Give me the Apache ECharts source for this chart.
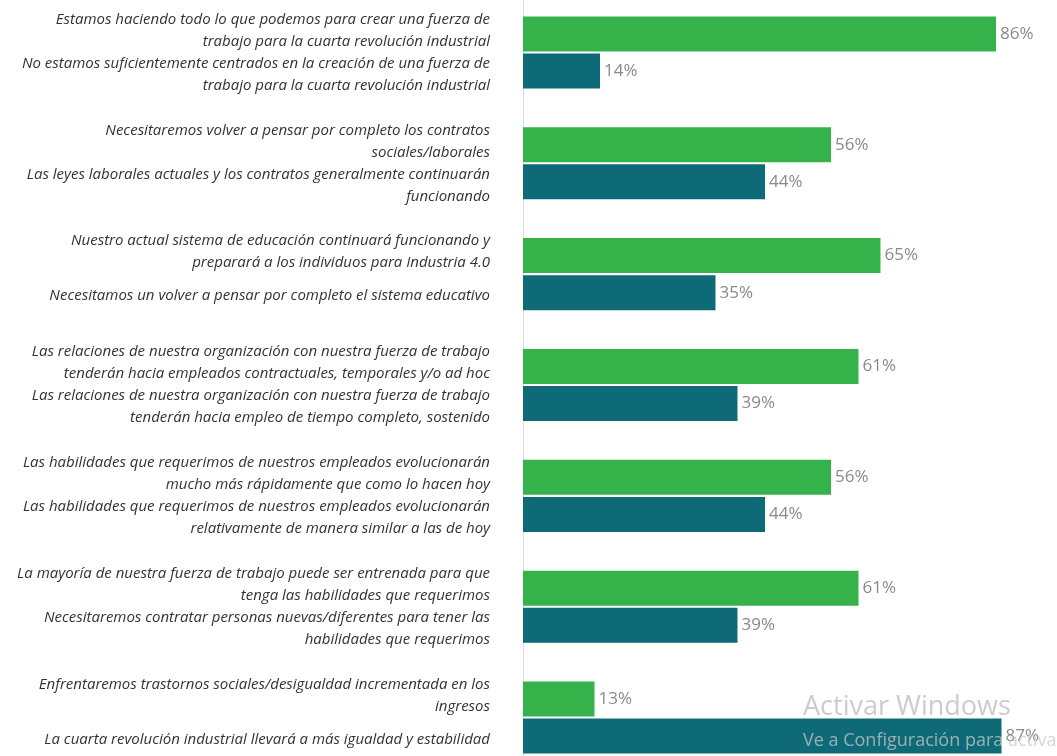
<!DOCTYPE html>
<html>
<head>
<meta charset="utf-8">
<script src="https://cdn.jsdelivr.net/npm/echarts@6/dist/echarts.min.js"></script>
<style>html,body{margin:0;padding:0;background:#fff}#c{width:1057px;height:756px}</style>
</head>
<body>
<div id="c"></div>
<script>
const categories = ['G1','G2','G3','G4','G5','G6','G7'];
const greenLabels = [
  'Estamos haciendo todo lo que podemos para crear una fuerza de\ntrabajo para la cuarta revolución industrial',
  'Necesitaremos volver a pensar por completo los contratos\nsociales/laborales',
  'Nuestro actual sistema de educación continuará funcionando y\npreparará a los individuos para Industria 4.0',
  'Las relaciones de nuestra organización con nuestra fuerza de trabajo\ntenderán hacia empleados contractuales, temporales y/o ad hoc',
  'Las habilidades que requerimos de nuestros empleados evolucionarán\nmucho más rápidamente que como lo hacen hoy',
  'La mayoría de nuestra fuerza de trabajo puede ser entrenada para que\ntenga las habilidades que requerimos',
  'Enfrentaremos trastornos sociales/desigualdad incrementada en los\ningresos'
];
const tealLabels = [
  'No estamos suficientemente centrados en la creación de una fuerza de\ntrabajo para la cuarta revolución industrial',
  'Las leyes laborales actuales y los contratos generalmente continuarán\nfuncionando',
  'Necesitamos un volver a pensar por completo el sistema educativo',
  'Las relaciones de nuestra organización con nuestra fuerza de trabajo\ntenderán hacia empleo de tiempo completo, sostenido',
  'Las habilidades que requerimos de nuestros empleados evolucionarán\nrelativamente de manera similar a las de hoy',
  'Necesitaremos contratar personas nuevas/diferentes para tener las\nhabilidades que requerimos',
  'La cuarta revolución industrial llevará a más igualdad y estabilidad'
];
const greenValues = [86, 56, 65, 61, 56, 61, 13];
const tealValues  = [14, 44, 35, 39, 44, 39, 87];

const GREEN = '#35b34a';
const TEAL = '#0e6a77';
const richStyles = {
  t: {fontFamily: 'Open Sans', fontStyle: 'italic', fontSize: 15, color: '#333', lineHeight: 22},
  s: {fontFamily: 'Open Sans', fontSize: 1, lineHeight: 44, color: 'transparent'}
};
function linesOf(text) {
  return text.split('\n').map(l => '{t|' + l + '}');
}
const valueLabel = {
  show: true, position: 'right', distance: 4,
  fontFamily: 'Open Sans', fontSize: 17, color: '#8a8a8a',
  formatter: p => p.value + '%'
};

const chart = echarts.init(document.getElementById('c'), null, {renderer: 'canvas'});
chart.setOption({
  animation: false,
  backgroundColor: '#fff',
  grid: {left: 523, right: 6, top: -3, bottom: -17, outerBoundsMode: 'none'},
  xAxis: {type: 'value', min: 0, max: 96, show: false, splitLine: {show: false}},
  yAxis: [
    {
      type: 'category', data: categories, inverse: true, position: 'left',
      axisLine: {show: true, lineStyle: {color: '#dcdcdc', width: 1}},
      axisTick: {show: false},
      axisLabel: {margin: 33, align: 'right', verticalAlign: 'middle', rich: richStyles,
        formatter: (v, i) => linesOf(greenLabels[i]).concat(['{s| }']).join('\n')}
    },
    {
      type: 'category', data: categories, inverse: true, position: 'left',
      axisLine: {show: false}, axisTick: {show: false},
      axisLabel: {margin: 33, align: 'right', verticalAlign: 'middle', rich: richStyles,
        formatter: (v, i) => ['{s| }'].concat(linesOf(tealLabels[i])).join('\n')}
    }
  ],
  series: [
    {type: 'bar', yAxisIndex: 0, data: greenValues, barWidth: 35, barGap: '6%',
     itemStyle: {color: GREEN}, label: valueLabel},
    {type: 'bar', yAxisIndex: 0, data: tealValues, barWidth: 35, barGap: '6%',
     itemStyle: {color: TEAL}, label: valueLabel}
  ],
  graphic: [
    {type: 'text', left: 803, top: 694, z: 100, silent: true,
     style: {text: 'Activar Windows', fontFamily: 'Open Sans', fontSize: 27, fill: 'rgba(195,195,195,0.85)'}},
    {type: 'text', left: 803, top: 732, z: 100, silent: true,
     style: {text: 'Ve a Configuración para activar Windows', fontFamily: 'Open Sans', fontSize: 18, fill: 'rgba(200,200,200,0.75)'}}
  ]
});
</script>
</body>
</html>
